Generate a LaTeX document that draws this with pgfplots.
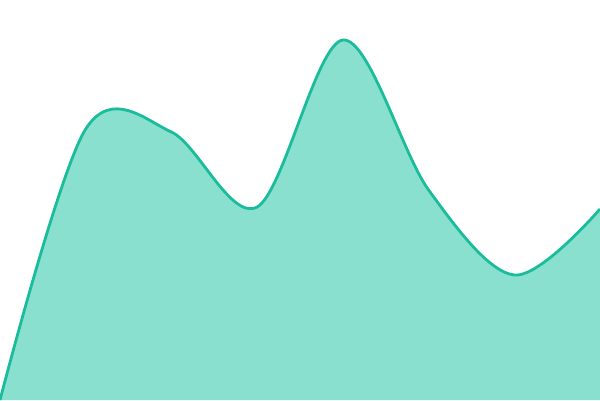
\documentclass[border=0pt]{standalone}
\usepackage{pgfplots}
\pgfplotsset{compat=1.18}
\definecolor{turq}{HTML}{1ABC9C}
\definecolor{turqfill}{HTML}{8AE0CE}

\begin{document}
\begin{tikzpicture}
    \begin{axis}[
            scale only axis,
            width=600bp, height=400bp,
            xmin=0, xmax=600,
            ymin=0, ymax=400,
            ticks=none,
            axis line style={draw=none},
            clip=true,
        ]
        % area first, then the outline on top
        \addplot[draw=none, fill=turqfill, smooth, tension=0.55]
        coordinates {
                (0, 0) (85.7, 271) (171.4, 268) (257.1, 193)
                (342.9, 360) (428.6, 210) (514.3, 125) (600, 191)
            } \closedcycle;
        \addplot[turq, line width=2.8bp, smooth, tension=0.55]
        coordinates {
                (0, 0) (85.7, 271) (171.4, 268) (257.1, 193)
                (342.9, 360) (428.6, 210) (514.3, 125) (600, 191)
            };
    \end{axis}
\end{tikzpicture}
\end{document}
